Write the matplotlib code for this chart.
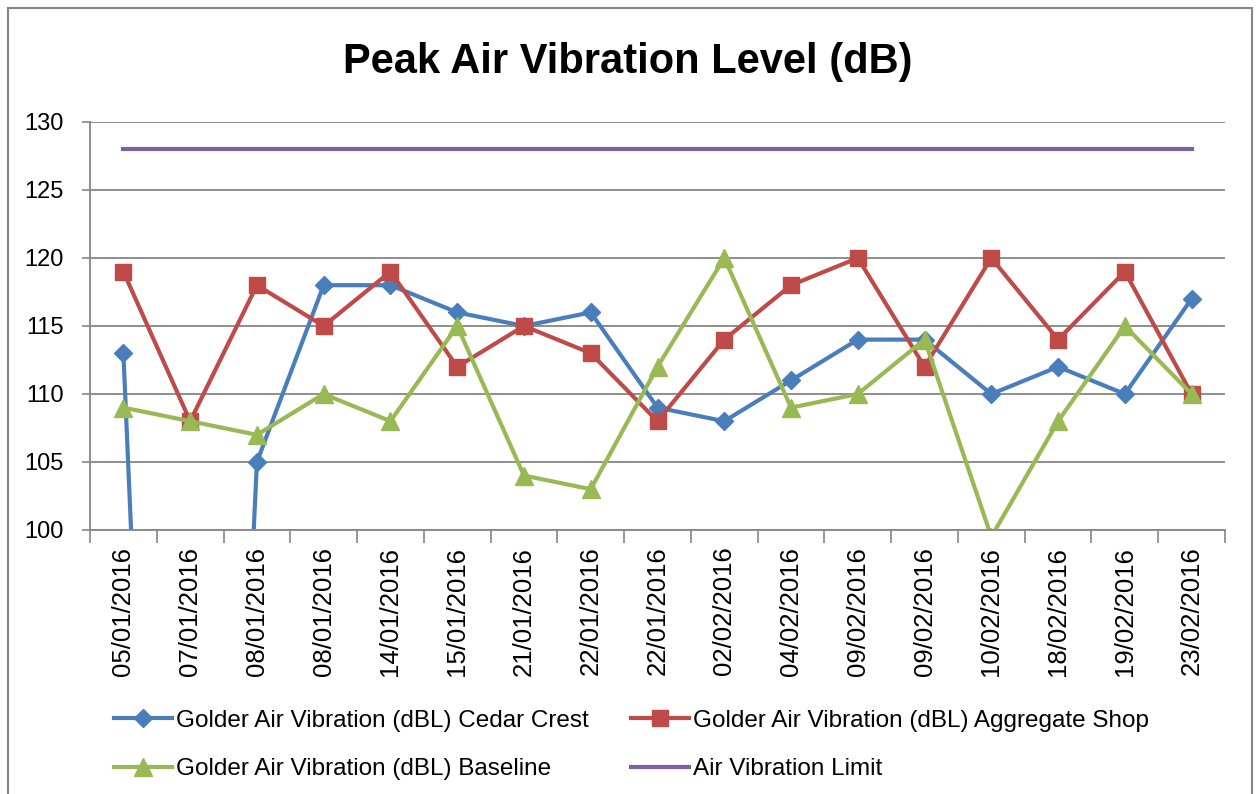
import matplotlib.pyplot as plt
import numpy as np
from matplotlib.patches import Rectangle

# dates on the category axis
dates = ["05/01/2016", "07/01/2016", "08/01/2016", "08/01/2016", "14/01/2016",
         "15/01/2016", "21/01/2016", "22/01/2016", "22/01/2016", "02/02/2016",
         "04/02/2016", "09/02/2016", "09/02/2016", "10/02/2016", "18/02/2016",
         "19/02/2016", "23/02/2016"]

cedar_crest = [113, 0, 105, 118, 118, 116, 115, 116, 109, 108, 111, 114, 114, 110, 112, 110, 117]
aggregate_shop = [119, 108, 118, 115, 119, 112, 115, 113, 108, 114, 118, 120, 112, 120, 114, 119, 110]
baseline = [109, 108, 107, 110, 108, 115, 104, 103, 112, 120, 109, 110, 114, 99.5, 108, 115, 110]
limit = [128] * len(dates)

plt.rcParams['font.family'] = ['Liberation Sans', 'DejaVu Sans']

fig = plt.figure(figsize=(12.56, 7.94), dpi=100)
ax = fig.add_axes([90 / 1256, 1 - 530 / 794, 1135 / 1256, 408 / 794])

x = np.arange(len(dates))
l_cedar, = ax.plot(x, cedar_crest, color="#4A7EBB", lw=3, marker="D", ms=9,
                   label="Golder Air Vibration (dBL) Cedar Crest")
l_agg, = ax.plot(x, aggregate_shop, color="#BE4B48", lw=3, marker="s", ms=12,
                 label="Golder Air Vibration (dBL) Aggregate Shop")
l_base, = ax.plot(x, baseline, color="#98B954", lw=3, marker="^", ms=13,
                  label="Golder Air Vibration (dBL) Baseline")
l_lim, = ax.plot(x, limit, color="#7D60A0", lw=3, label="Air Vibration Limit")

ax.set_xlim(-0.5, len(dates) - 0.5)
ax.set_ylim(100, 130)
ax.set_yticks(np.arange(100, 131, 5))
ax.set_xticks(x)
ax.set_xticklabels(dates, rotation=90, fontsize=18.5)
ax.set_xticks(np.arange(-0.5, len(dates), 1), minor=True)
ax.tick_params(axis="x", which="major", length=0, pad=12)
ax.tick_params(axis="x", which="minor", length=9, color="#868686", width=1.2)
ax.tick_params(axis="y", length=6, color="#868686", width=1.2, labelsize=17, pad=13)

ax.grid(axis="y", color="#868686", lw=1.3)
ax.set_axisbelow(True)
for s in ["top", "right"]:
    ax.spines[s].set_visible(False)
for s in ["left", "bottom"]:
    ax.spines[s].set_color("#868686")
    ax.spines[s].set_linewidth(1.3)

fig.text(0.5, 1 - 62 / 794, "Peak Air Vibration Level (dB)", ha="center", va="center",
         fontsize=30, fontweight="bold")

fig.legend([l_cedar, l_base, l_agg, l_lim],
           [l.get_label() for l in [l_cedar, l_base, l_agg, l_lim]],
           loc="upper left", bbox_to_anchor=(104 / 1256, 1 - 700 / 794), ncol=2,
           frameon=False, fontsize=17.5, handlelength=2.4, handletextpad=0.15,
           columnspacing=1.75, labelspacing=1.1, borderaxespad=0)

fig.patches.append(Rectangle((8 / 1256, -0.01), 1244 / 1256, 1 - 8 / 794 + 0.01,
                             transform=fig.transFigure, fill=False,
                             edgecolor="#868686", lw=1.5))

fig.savefig("out.png", dpi=100)
